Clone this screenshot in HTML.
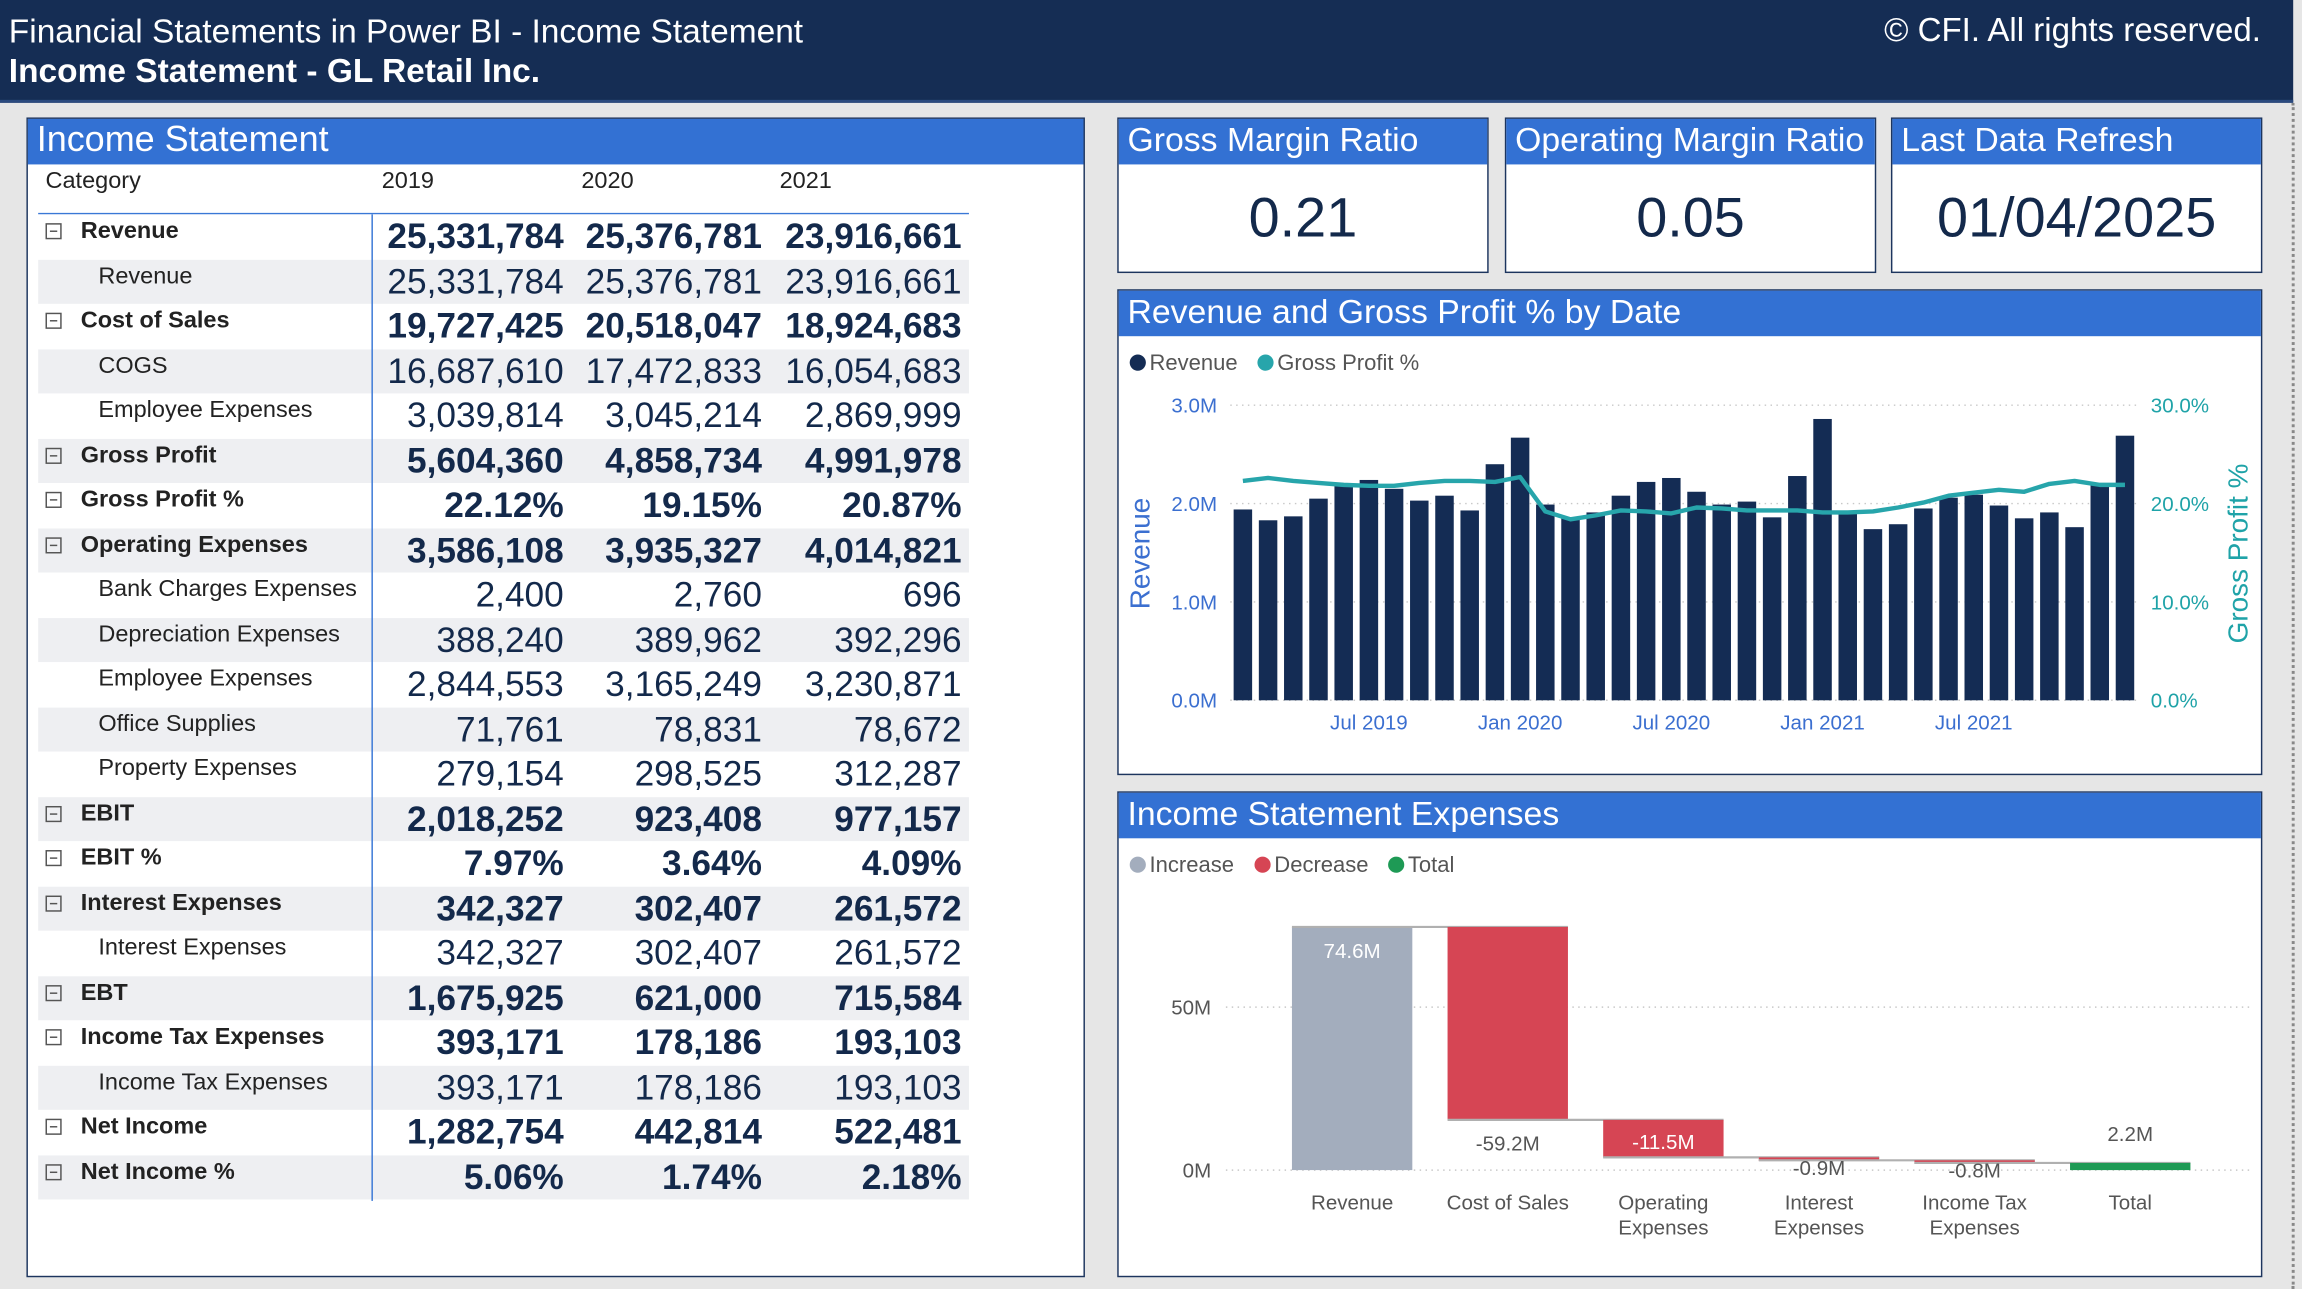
<!DOCTYPE html>
<html><head><meta charset="utf-8">
<style>
html,body{margin:0;padding:0;width:2302px;height:1289px;overflow:hidden;background:#e6e6e6;}
#stage{position:absolute;left:0;top:0;width:1568px;height:878px;transform:scale(1.468112);transform-origin:0 0;font-family:"Liberation Sans",Arial,sans-serif;background:#e6e6e6;}
.abs{position:absolute;}
.hdr{left:0;top:0;width:1562px;height:68px;background:#152d54;border-bottom:2px solid #2b4a7e;color:#fff;}
.panel{background:#fff;border:1px solid #1d355e;}
.band{position:absolute;left:0;top:0;right:0;height:31px;background:#3371d3;color:#fff;font-size:23px;line-height:29px;padding-left:6px;white-space:nowrap;}
.kpi{position:absolute;left:0;right:0;top:31px;bottom:0;text-align:center;color:#13294b;font-size:38px;line-height:74px;}
.row{position:absolute;left:7px;width:634px;height:30.5px;}
.lab{position:absolute;top:3px;font-size:16px;color:#222;white-space:nowrap;}
.b .lab{font-weight:bold;}
.val{position:absolute;top:2px;font-size:24px;color:#13294b;text-align:right;width:130px;}
.b .val{font-weight:bold;}
.tog{position:absolute;left:5px;top:6px;width:9px;height:9px;border:1px solid #555;font-size:0;}
.tog::after{content:"";position:absolute;left:2px;top:4px;width:5px;height:1px;background:#555;}
svg text{font-family:"Liberation Sans",Arial,sans-serif;}
</style></head><body>
<div id="stage">
<div class="abs hdr">
 <div class="abs" style="left:6px;top:8px;font-size:22.8px;">Financial Statements in Power BI - Income Statement</div>
 <div class="abs" style="left:6px;top:35px;font-size:22.8px;font-weight:bold;">Income Statement - GL Retail Inc.</div>
 <div class="abs" style="right:22px;top:8px;font-size:22.5px;">© CFI. All rights reserved.</div>
</div>
<div class="abs" style="left:1561px;top:70px;width:0;height:808px;border-left:2px dotted #888;"></div>

<div class="abs panel" style="left:18px;top:80px;width:719px;height:788px;">
 <div class="band" style="font-size:24.5px;">Income Statement</div>
 <div class="abs" style="left:12px;top:34px;font-size:16px;color:#222;">Category</div>
 <div class="abs" style="left:241px;top:34px;font-size:16px;color:#222;">2019</div>
 <div class="abs" style="left:377px;top:34px;font-size:16px;color:#222;">2020</div>
 <div class="abs" style="left:512px;top:34px;font-size:16px;color:#222;">2021</div>
 <div class="abs" style="left:7px;top:64px;width:634px;height:1px;background:#3a78d6;"></div>
 <div id="rows"></div>
 <div class="abs" style="left:234px;top:65px;width:1px;height:672px;background:#3a78d6;"></div>
</div>

<div class="abs panel" style="left:761px;top:80px;width:251px;height:104px;"><div class="band">Gross Margin Ratio</div><div class="kpi">0.21</div></div>
<div class="abs panel" style="left:1025px;top:80px;width:251px;height:104px;"><div class="band">Operating Margin Ratio</div><div class="kpi">0.05</div></div>
<div class="abs panel" style="left:1288px;top:80px;width:251px;height:104px;"><div class="band">Last Data Refresh</div><div class="kpi">01/04/2025</div></div>

<div class="abs panel" style="left:761px;top:197px;width:778px;height:329px;"><div class="band">Revenue and Gross Profit % by Date</div></div>
<div class="abs panel" style="left:761px;top:539px;width:778px;height:329px;"><div class="band">Income Statement Expenses</div></div>

<svg id="charts" class="abs" style="left:0;top:0;" width="1568" height="878"></svg>
</div>
<script>
// ---- table data ----
const rowLabels=["Revenue","Revenue","Cost of Sales","COGS","Employee Expenses","Gross Profit","Gross Profit %","Operating Expenses","Bank Charges Expenses","Depreciation Expenses","Employee Expenses","Office Supplies","Property Expenses","EBIT","EBIT %","Interest Expenses","Interest Expenses","EBT","Income Tax Expenses","Income Tax Expenses","Net Income","Net Income %"];
const rowBold=[1,0,1,0,0,1,1,1,0,0,0,0,0,1,1,1,0,1,1,0,1,1];
const v2019=["25,331,784","25,331,784","19,727,425","16,687,610","3,039,814","5,604,360","22.12%","3,586,108","2,400","388,240","2,844,553","71,761","279,154","2,018,252","7.97%","342,327","342,327","1,675,925","393,171","393,171","1,282,754","5.06%"];
const v2020=["25,376,781","25,376,781","20,518,047","17,472,833","3,045,214","4,858,734","19.15%","3,935,327","2,760","389,962","3,165,249","78,831","298,525","923,408","3.64%","302,407","302,407","621,000","178,186","178,186","442,814","1.74%"];
const v2021=["23,916,661","23,916,661","18,924,683","16,054,683","2,869,999","4,991,978","20.87%","4,014,821","696","392,296","3,230,871","78,672","312,287","977,157","4.09%","261,572","261,572","715,584","193,103","193,103","522,481","2.18%"];
const rowsEl=document.getElementById('rows');
rowLabels.forEach((l,i)=>{
  const r=document.createElement('div');
  r.className='row'+(rowBold[i]?' b':'');
  r.style.top=(65+i*30.52)+'px';
  r.style.background=(i%2)?'#eeeff2':'#fff';
  
  
  let h='';
  if(rowBold[i]) h+='<div class="tog"></div><div class="lab" style="left:29px">'+l+'</div>';
  else h+='<div class="lab" style="left:41px">'+l+'</div>';
  h+='<div class="val" style="left:228px">'+v2019[i]+'</div><div class="val" style="left:363px">'+v2020[i]+'</div><div class="val" style="left:499px">'+v2021[i]+'</div>';
  r.innerHTML=h;
  rowsEl.appendChild(r);
});

// ---- combo chart data ----
const revenue=[1.94,1.83,1.87,2.05,2.2,2.24,2.15,2.03,2.08,1.93,2.40,2.67,1.99,1.85,1.91,2.08,2.22,2.26,2.12,1.99,2.02,1.86,2.28,2.86,1.92,1.74,1.79,1.95,2.06,2.09,1.98,1.85,1.91,1.76,2.19,2.69];
const grossPct=[22.3,22.6,22.3,22.1,21.9,21.8,21.8,22.1,22.3,22.3,22.2,22.7,19.2,18.4,18.8,19.3,19.2,19.0,19.6,19.5,19.3,19.3,19.3,19.1,19.1,19.2,19.6,20.1,20.8,21.1,21.4,21.2,22.0,22.3,21.9,21.9];
const revTicks=[0,1,2,3];
const revTickLabels=["0.0M","1.0M","2.0M","3.0M"];
const pctTickLabels=["0.0%","10.0%","20.0%","30.0%"];
const dateLabels=["Jul 2019","Jan 2020","Jul 2020","Jan 2021","Jul 2021"];
const dateLabelIdx=[5,11,17,23,29];

// ---- waterfall data ----
const wfCats=[["Revenue"],["Cost of Sales"],["Operating","Expenses"],["Interest","Expenses"],["Income Tax","Expenses"],["Total"]];
const wfVals=[74.6,-59.2,-11.5,-0.9,-0.8,2.2];
const wfLabels=["74.6M","-59.2M","-11.5M","-0.9M","-0.8M","2.2M"];
const wfTicks=[0,50];
const wfTickLabels=["0M","50M"];

const NS='http://www.w3.org/2000/svg';
const svg=document.getElementById('charts');
function mk(tag,attrs,parent,text){const e=document.createElementNS(NS,tag);for(const k in attrs)e.setAttribute(k,attrs[k]);if(text!==undefined)e.textContent=text;(parent||svg).appendChild(e);return e;}

// combo chart
const g1=mk('g',{});


const x0=838,x1=1456,yB=477,yT=276;
const yRev=v=>yB-(v/3)*(yB-yT);
const yPct=v=>yB-(v/30)*(yB-yT);
const step=(x1-x0)/revenue.length;
const xC=i=>x0+step*(i+0.5);
revTicks.forEach((t,i)=>{
  const gl=mk('line',{x1:x0,x2:x1,y1:yRev(t),y2:yRev(t),stroke:'#c8c8c8','stroke-dasharray':'1,3'},g1);
  
  const a=mk('text',{x:829,y:yRev(t)+5,'text-anchor':'end','font-size':14,fill:'#3b6fd0'},g1,revTickLabels[i]);
  
  const b=mk('text',{x:1465,y:yPct(t*10)+5,'font-size':14,fill:'#1fa3a8'},g1,pctTickLabels[i]);
  
});
revenue.forEach((v,i)=>{
  const r=mk('rect',{x:xC(i)-6.3,y:yRev(v),width:12.6,height:yB-yRev(v),fill:'#142c54'},g1);
  
});
const pl=mk('polyline',{points:grossPct.map((v,i)=>xC(i)+','+yPct(v)).join(' '),fill:'none',stroke:'#27a5ab','stroke-width':3,'stroke-linejoin':'round'},g1);

dateLabels.forEach((l,i)=>{
  const t=mk('text',{x:xC(dateLabelIdx[i]),y:497,'text-anchor':'middle','font-size':14,fill:'#3b6fd0'},g1,l);
  
});
const yt1=mk('text',{x:0,y:0,transform:'translate(783,377) rotate(-90)','text-anchor':'middle','font-size':19,fill:'#3b6fd0'},g1,'Revenue');

const yt2=mk('text',{x:0,y:0,transform:'translate(1531,377) rotate(-90)','text-anchor':'middle','font-size':19,fill:'#1fa3a8'},g1,'Gross Profit %');

const lg1=mk('g',{},g1);

mk('circle',{cx:775,cy:247,r:5.5,fill:'#142c54'},lg1);
mk('text',{x:783,y:252,'font-size':15,fill:'#555'},lg1,'Revenue');
mk('circle',{cx:862,cy:247,r:5.5,fill:'#27a5ab'},lg1);
mk('text',{x:870,y:252,'font-size':15,fill:'#555'},lg1,'Gross Profit %');

// waterfall
const g2=mk('g',{});


const wy0=797,wPer=(797-686)/50;
const wy=v=>wy0-v*wPer;
const wx0=868,wstep=106,bw=82;
const wxL=i=>wx0+12+i*wstep;
wfTicks.forEach((t,i)=>{
  const gl=mk('line',{x1:835,x2:1535,y1:wy(t),y2:wy(t),stroke:'#c8c8c8','stroke-dasharray':'1,3'},g2);
  
  const tx=mk('text',{x:825,y:wy(t)+5,'text-anchor':'end','font-size':14,fill:'#555'},g2,wfTickLabels[i]);
  
});
let run=0;
wfVals.forEach((v,i)=>{
  let top,bot,col;
  const last=i===wfVals.length-1;
  if(last){top=Math.max(v,0);bot=Math.min(v,0);col='#1e9a55';}
  else{const a=run,b=run+v;top=Math.max(a,b);bot=Math.min(a,b);col=v>=0?'#a3adbd':'#d64554';run=b;}
  const h=Math.max(wy(bot)-wy(top),2.5);
  const r=mk('rect',{x:wxL(i),y:wy(top),width:bw,height:h,fill:col},g2);
  
  if(!last){
    const c=mk('line',{x1:wxL(i),x2:wxL(i+1)+bw,y1:wy(run),y2:wy(run),stroke:'#b0b0b0','stroke-width':1.5},g2);
    
  }
  let ly,fill;
  if(i===0){ly=wy(top)+21;fill='#fff';}
  else if(last){ly=wy(top)-15;fill='#555';}
  else if(h>25){ly=(v<0&&h<40)?wy(top)+20:wy(bot)+21;fill=(h<40)?'#fff':'#555';}
  else{ly=wy(bot)+10;fill='#555';}
  const lt=mk('text',{x:wxL(i)+bw/2,y:ly,'text-anchor':'middle','font-size':14,fill:fill},g2,wfLabels[i]);
  
  wfCats[i].forEach((s,k)=>{
    const ct=mk('text',{x:wxL(i)+bw/2,y:824+k*17,'text-anchor':'middle','font-size':14,fill:'#555'},g2,s);
    
  });
});
const lg2=mk('g',{},g2);

mk('circle',{cx:775,cy:589,r:5.5,fill:'#a3adbd'},lg2);
mk('text',{x:783,y:594,'font-size':15,fill:'#555'},lg2,'Increase');
mk('circle',{cx:860,cy:589,r:5.5,fill:'#d64554'},lg2);
mk('text',{x:868,y:594,'font-size':15,fill:'#555'},lg2,'Decrease');
mk('circle',{cx:951,cy:589,r:5.5,fill:'#1e9a55'},lg2);
mk('text',{x:959,y:594,'font-size':15,fill:'#555'},lg2,'Total');
</script>
</body></html>
